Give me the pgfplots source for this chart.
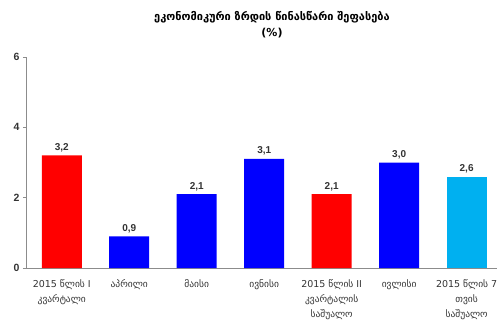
\documentclass[border=0pt]{standalone}
\usepackage{pgfplots}
\pgfplotsset{compat=1.18}
\usepackage{fontspec}
\setmainfont{Liberation Sans}
\newfontfamily\geo{DejaVu Sans}
\definecolor{txt}{HTML}{333333}
\definecolor{axgray}{HTML}{8C8C8C}
\definecolor{cred}{HTML}{FF0000}
\definecolor{cblue}{HTML}{0000FF}
\definecolor{clight}{HTML}{00B0F0}
\begin{document}
\begin{tikzpicture}[x=1pt,y=1pt]
\path (-26,-62) rectangle (478,268);
\begin{axis}[
  at={(0,0)}, anchor=south west,
  scale only axis, width=471pt, height=211pt,
  xmin=-0.53, xmax=6.45, ymin=0, ymax=6,
  axis x line*=bottom, axis y line*=left,
  axis line style={axgray, line width=0.8pt},
  every tick/.style={axgray, line width=0.8pt},
  ytick={0,2,4,6},
  yticklabel style={font=\fontsize{10.5}{11}\selectfont\bfseries, text=txt},
  /pgf/number format/assume math mode=true,
  tick align=outside,
  major tick length=3pt,
  xtick={0,...,6},
  x tick style={draw=none},
  minor xtick={0.5,1.5,2.5,3.5,4.5,5.5,6.45},
  minor tick length=4pt,
  minor x tick style={axgray, line width=0.8pt},
  xticklabels={{2015 წლის I\\კვარტალი},{აპრილი},{მაისი},{ივნისი},{2015 წლის II\\კვარტალის\\საშუალო},{ივლისი},{2015 წლის 7\\თვის\\საშუალო}},
  xticklabel style={font=\geo\fontsize{9.5}{15}\selectfont, text=txt, align=center, anchor=north, yshift=-5pt},
  ybar, bar width=40pt, bar shift=0pt,
  nodes near coords,
  nodes near coords style={font=\fontsize{10}{11}\selectfont\bfseries, text=txt, /pgf/number format/.cd, fixed, fixed zerofill, precision=1, use comma},
  clip=false,
]
\addplot[fill=cred, draw=none] coordinates {(0,3.2) (4,2.1)};
\addplot[fill=cblue, draw=none] coordinates {(1,0.9) (2,2.1) (3,3.1) (5,3.0)};
\addplot[fill=clight, draw=none] coordinates {(6,2.6)};
\end{axis}
\node[font=\geo\bfseries\fontsize{11}{16}\selectfont, text=black, align=center] at (246,243) {ეკონომიკური ზრდის წინასწარი შეფასება\\(\%)};
\end{tikzpicture}
\end{document}
